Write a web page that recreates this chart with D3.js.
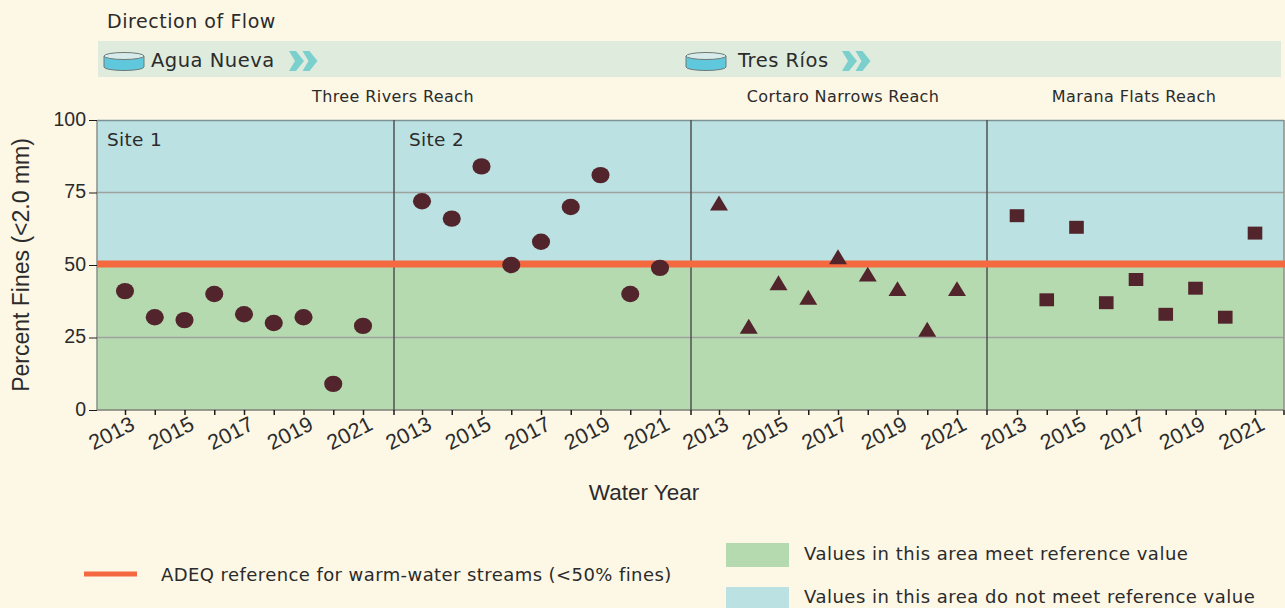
<!DOCTYPE html>
<html><head><meta charset="utf-8">
<script src="https://cdn.jsdelivr.net/npm/d3@7"></script>
<style>html,body{margin:0;padding:0;background:#fdf7e6;overflow:hidden}svg{display:block}text{fill:#2b2b2b}</style>
</head><body><svg id="c" width="1285" height="608"></svg>
<script>
const years=[2013,2014,2015,2016,2017,2018,2019,2020,2021];
const site1=[41,32,31,40,33,30,32,9,29];
const site2=[72,66,84,50,58,70,81,40,49];
const cortaro=[70.5,28,43,38,52,46,41,27,41];
const marana=[67,38,63,37,45,33,42,32,61];
const yTicks=[0,25,50,75,100];
const referenceValue=50;
const reachNames=["Three Rivers Reach","Cortaro Narrows Reach","Marana Flats Reach"];
const panelNames=["Site 1","Site 2","",""];
const panelSeries=[site1,site2,cortaro,marana];
const panelSymbols=["circle","circle","triangle","square"];
const panelEdges=[97,394,691,987,1284];
const firstYearX=[125,422,719,1017];

const svg=d3.select("#c");
const SANS="'DejaVu Sans',sans-serif", ARIAL="'Liberation Sans',sans-serif";
const y=d3.scaleLinear().domain([0,100]).range([410,120]);
const C={green:"#b6dab0",blue:"#bbe1e2",band:"#dfecdd",ref:"#f4693f",mark:"#52242b",grid:"#9fa3a0",frame:"#4f5250",tick:"#1a1a1a"};

const left=panelEdges[0],right=panelEdges[4];
svg.append("rect").attr("x",left).attr("width",right-left).attr("y",y(100)).attr("height",y(50)-y(100)).attr("fill",C.blue);
svg.append("rect").attr("x",left).attr("width",right-left).attr("y",y(50)).attr("height",y(0)-y(50)).attr("fill",C.green);

svg.append("g").selectAll("line").data([25,75]).join("line")
  .attr("x1",left).attr("x2",right).attr("y1",d=>y(d)).attr("y2",d=>y(d)).attr("stroke",C.grid).attr("stroke-width",1.5);
svg.append("line").attr("x1",left).attr("x2",right).attr("y1",y(100)+.5).attr("y2",y(100)+.5).attr("stroke","#7d9294").attr("stroke-width",1.4);
svg.append("line").attr("x1",left).attr("x2",right).attr("y1",y(0)).attr("y2",y(0)).attr("stroke","#7c8076").attr("stroke-width",1.5);
svg.append("g").selectAll("line").data(panelEdges).join("line")
  .attr("x1",d=>d).attr("x2",d=>d).attr("y1",y(100)).attr("y2",y(0))
  .attr("stroke",(d,i)=>(i===0||i===4)?"#8b918b":C.frame).attr("stroke-width",1.5);

svg.append("line").attr("x1",left).attr("x2",right+1).attr("y1",y(referenceValue)-1).attr("y2",y(referenceValue)-1)
  .attr("stroke",C.ref).attr("stroke-width",7);

// y axis
const yAxis=svg.append("g").attr("transform",`translate(${left},0)`).call(d3.axisLeft(y).tickValues(yTicks).tickSize(8).tickPadding(3));
yAxis.select(".domain").remove();
yAxis.selectAll("line").attr("stroke",C.tick).attr("stroke-width",1);
yAxis.selectAll("text").attr("font-family",ARIAL).attr("font-size",19.5).attr("dy","0.27em").attr("fill","#2b2b2b");

const symbols={circle:d3.symbolCircle,triangle:d3.symbolTriangle,square:d3.symbolSquare};
const symSize={circle:225,triangle:140,square:190};
const symScale={circle:"scale(1.07,0.97)",triangle:"scale(1,0.96)",square:"scale(1.06,0.94)"};
panelSeries.forEach((vals,i)=>{
  const x=d3.scaleLinear().domain([2013,2021]).range([firstYearX[i],firstYearX[i]+238]);
  const ax=svg.append("g").attr("transform",`translate(0,${y(0)})`)
    .call(d3.axisBottom(x).tickValues(years).tickSize(5).tickFormat(d=>(d-2013)%2?"":d));
  ax.select(".domain").remove();
  ax.selectAll("line").attr("stroke",C.tick).attr("stroke-width",1.5);
  ax.selectAll("text").attr("font-family",ARIAL).attr("font-size",21.5)
    .attr("text-anchor","middle").attr("y",0).attr("dy",".35em")
    .attr("transform","translate(-14,23) rotate(-27)").attr("fill","#3a3a3a");
  const sym=panelSymbols[i];
  svg.append("g").selectAll("path").data(vals).join("path")
    .attr("transform",(d,k)=>`translate(${x(years[k])},${y(d)}) ${symScale[sym]}`)
    .attr("d",d3.symbol().type(symbols[sym]).size(symSize[sym])())
    .attr("fill",C.mark);
  if(panelNames[i]) svg.append("text").attr("x",panelEdges[i]+(i?15:10)).attr("y",146)
    .attr("font-family",SANS).attr("font-size",18.5).attr("letter-spacing",.3).text(panelNames[i]);
});
// boundary ticks
svg.append("g").selectAll("line").data(panelEdges.slice(1)).join("line")
  .attr("x1",d=>d).attr("x2",d=>d).attr("y1",y(0)).attr("y2",y(0)+5).attr("stroke",C.tick).attr("stroke-width",1.5);

// titles
svg.append("text").attr("x",107).attr("y",28).attr("font-family",SANS).attr("font-size",19).attr("letter-spacing",.55).text("Direction of Flow");
svg.append("rect").attr("x",98).attr("y",41).attr("width",1183).attr("height",36).attr("fill",C.band);

function tank(cx){
  const g=svg.append("g");
  const rx=20,ry=3.5,top=56,bot=67;
  g.append("path").attr("d",`M${cx-rx},${top}V${bot}A${rx},${ry} 0 0 0 ${cx+rx},${bot}V${top}Z`).attr("fill","#5fc8dc").attr("stroke","#6d7a78");
  g.append("ellipse").attr("cx",cx).attr("cy",top).attr("rx",rx).attr("ry",ry).attr("fill","#d7ecea").attr("stroke","#6d7a78");
}
function chevrons(x0){
  [0,13.5].forEach(o=>{
    const a=x0+o;
    svg.append("path").attr("d",`M${a},51H${a+7}L${a+15},61L${a+7},71H${a}L${a+6},61Z`).attr("fill","#7bd0cd");
  });
}
const sources=[["Agua Nueva",124,151,289],["Tres Ríos",706,738,842]];
sources.forEach(s=>{
  tank(s[1]);
  svg.append("text").attr("x",s[2]).attr("y",67).attr("font-family",SANS).attr("font-size",19.5).attr("letter-spacing",.5).text(s[0]);
  chevrons(s[3]);
});
[[393,reachNames[0]],[843,reachNames[1]],[1134,reachNames[2]]].forEach(r=>{
  svg.append("text").attr("x",r[0]).attr("y",102).attr("text-anchor","middle").attr("font-family",SANS).attr("font-size",16).attr("letter-spacing",.4).text(r[1]);
});

// axis titles
svg.append("text").attr("transform","translate(29,265) rotate(-90)").attr("text-anchor","middle")
  .attr("font-family",ARIAL).attr("font-size",23).text("Percent Fines (<2.0 mm)");
svg.append("text").attr("x",644).attr("y",500).attr("text-anchor","middle").attr("font-family",ARIAL).attr("font-size",22.5).text("Water Year");

// legend
svg.append("line").attr("x1",84).attr("x2",137).attr("y1",574).attr("y2",574).attr("stroke",C.ref).attr("stroke-width",5);
svg.append("text").attr("x",161).attr("y",581).attr("font-family",SANS).attr("font-size",18).attr("letter-spacing",.42).text("ADEQ reference for warm-water streams (<50% fines)");
svg.append("rect").attr("x",726).attr("y",543).attr("width",63).attr("height",24).attr("fill",C.green);
svg.append("text").attr("x",804).attr("y",560).attr("font-family",SANS).attr("font-size",18).attr("letter-spacing",.5).text("Values in this area meet reference value");
svg.append("rect").attr("x",726).attr("y",587).attr("width",63).attr("height",21).attr("fill",C.blue);
svg.append("text").attr("x",804).attr("y",603).attr("font-family",SANS).attr("font-size",18).attr("letter-spacing",.5).text("Values in this area do not meet reference value");
</script></body></html>
